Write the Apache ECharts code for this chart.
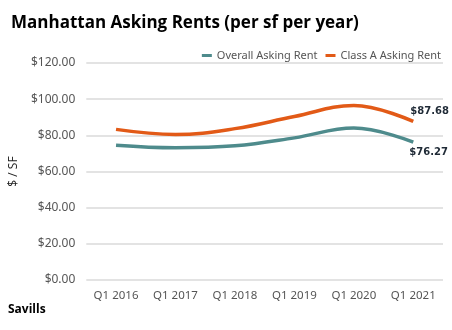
<!DOCTYPE html>
<html>
<head>
<meta charset="utf-8">
<script src="https://cdn.jsdelivr.net/npm/echarts@6/dist/echarts.min.js"></script>
<style>
  html, body { margin: 0; padding: 0; background: #fff; }
  #chart { width: 452px; height: 330px; }
</style>
</head>
<body>
<div id="chart"></div>
<script>
// Manhattan asking rents, $ per sf per year
const categories = ['Q1 2016', 'Q1 2017', 'Q1 2018', 'Q1 2019', 'Q1 2020', 'Q1 2021'];
const overallRent = [74.5, 73.1, 74.2, 78.6, 84.0, 76.27];
const classARent = [83.3, 80.5, 83.7, 90.4, 96.5, 87.68];
const yTicks = [0, 20, 40, 60, 80, 100, 120];

const chart = echarts.init(document.getElementById('chart'));

// value label at the last point of each line
function lastLabel(offset) {
  return {
    show: true,
    offset: offset,
    fontFamily: 'DejaVu Sans',
    fontWeight: 'bold',
    fontSize: 10,
    color: '#1f2a36',
    formatter: p => {
      const v = Array.isArray(p.value) ? p.value[p.value.length - 1] : p.value;
      return '$' + Number(v).toFixed(2);
    }
  };
}

chart.setOption({
  animation: false,
  title: {
    text: 'Manhattan Asking Rents (per sf per year)',
    left: 6,
    top: 10,
    textStyle: { fontFamily: 'Open Sans', fontWeight: 'bold', fontSize: 17, color: '#000' }
  },
  graphic: [{
    type: 'text',
    left: 8,
    top: 304,
    style: { text: 'Savills', font: 'bold 12px "Open Sans"', fill: '#000' }
  }],
  legend: {
    right: 6,
    top: 45,
    itemWidth: 10,
    itemHeight: 3,
    itemGap: 8,
    icon: 'rect',
    textStyle: { fontFamily: 'Noto Sans', fontSize: 11, color: '#555' },
    data: ['Overall Asking Rent', 'Class A Asking Rent']
  },
  grid: { left: 80, right: 9, top: 63, bottom: 50 },
  xAxis: {
    type: 'category',
    data: categories,
    boundaryGap: true,
    axisLine: { show: false },
    axisTick: { show: false },
    axisLabel: { interval: 0, fontFamily: 'Noto Sans', fontSize: 11.5, color: '#555', margin: 10 }
  },
  yAxis: {
    type: 'value',
    min: yTicks[0],
    max: yTicks[yTicks.length - 1],
    interval: 20,
    name: '$ / SF',
    nameLocation: 'middle',
    nameRotate: 90,
    nameGap: 58,
    nameTextStyle: { fontFamily: 'Open Sans', fontSize: 12, color: '#222' },
    axisLabel: {
      fontFamily: 'Noto Sans', fontSize: 12, color: '#555', margin: 11,
      formatter: v => '$' + v.toFixed(2)
    },
    splitLine: { lineStyle: { color: '#e3e3e3', width: 2 } }
  },
  series: [
    {
      name: 'Overall Asking Rent',
      type: 'line',
      data: overallRent,
      smooth: 0.4,
      showSymbol: false,
      symbol: 'none',
      color: '#4e8b8c',
      lineStyle: { width: 3.5, color: '#4e8b8c' },
      endLabel: lastLabel([-12, 10])
    },
    {
      name: 'Class A Asking Rent',
      type: 'line',
      data: classARent,
      smooth: 0.4,
      showSymbol: false,
      symbol: 'none',
      color: '#e25a17',
      lineStyle: { width: 3.5, color: '#e25a17' },
      endLabel: lastLabel([-11, -10])
    }
  ]
});
</script>
</body>
</html>
